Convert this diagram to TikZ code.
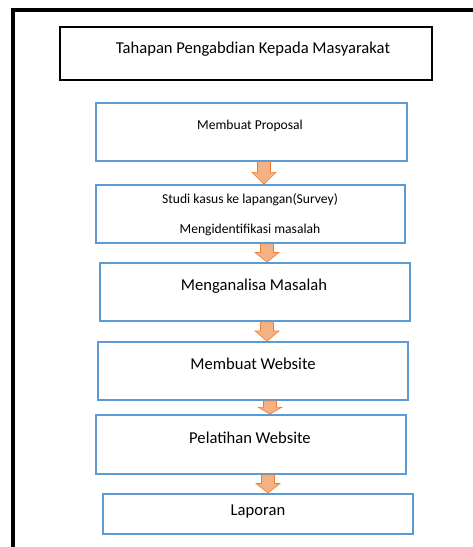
\documentclass[tikz,border=0pt]{standalone}
\usepackage{fontspec}
\setmainfont{Carlito}
\usetikzlibrary{calc}
\definecolor{boxblue}{HTML}{5B9BD5}
\definecolor{arrfill}{HTML}{F4B183}
\definecolor{arredge}{HTML}{ED7D31}
\tikzset{
  stepbox/.style={draw=boxblue, line width=1.8pt, fill=white, inner sep=0pt},
  titlebox/.style={draw=black, line width=1.4pt, inner sep=0pt},
  txt/.style={inner sep=0pt, text=black, anchor=base},
  bigtxt/.style={txt, font=\fontsize{16.6}{20}\selectfont},
  smalltxt/.style={txt, font=\fontsize{13.6}{16}\selectfont},
  blockarrow/.style={fill=arrfill, draw=arredge, line width=0.6pt, line join=miter},
  frameline/.style={draw=black, line width=4.8pt}
}
% #1 = x centre (px), #2 = upper node, #3 = lower node
\newcommand{\blockarr}[3]{%
  \path[blockarrow] let \p1=(#2.south), \p2=(#3.north) in
    ({#1pt-6.5pt},\y1) -- ({#1pt+6.5pt},\y1) --
    ({#1pt+6.5pt},{\y1+0.47*(\y2-\y1)}) -- ({#1pt+12pt},{\y1+0.47*(\y2-\y1)}) --
    ({#1pt},\y2) --
    ({#1pt-12pt},{\y1+0.47*(\y2-\y1)}) -- ({#1pt-6.5pt},{\y1+0.47*(\y2-\y1)}) -- cycle;}
\begin{document}
\begin{tikzpicture}[x=1pt,y=-1pt]
\useasboundingbox (0,0) rectangle (473,547);
\fill[white] (0,0) rectangle (473,547);
% outer frame
\coordinate (fbl) at (13,549);
\coordinate (fc) at (13,10);
\coordinate (ftr) at (475,10);
\draw[frameline] (fbl) -- (fc) -- (ftr);
% title
\node[titlebox, minimum width=372pt, minimum height=53pt] (title) at (246,53.5) {};
\node[bigtxt] (titletxt) at (253,53) {Tahapan Pengabdian Kepada Masyarakat};
% boxes
\node[stepbox, minimum width=311pt, minimum height=58pt] (b1) at (251.5,132) {};
\node[smalltxt] at (250,129) {Membuat Proposal};
\node[stepbox, minimum width=309pt, minimum height=58pt] (b2) at (250.5,214) {};
\node[smalltxt] at (250,203) {Studi kasus ke lapangan(Survey)};
\node[smalltxt] at (250,233) {Mengidentifikasi masalah};
\node[stepbox, minimum width=310pt, minimum height=58pt] (b3) at (255,292) {};
\node[bigtxt] at (254,290.5) {Menganalisa Masalah};
\node[stepbox, minimum width=310pt, minimum height=58pt] (b4) at (253,371) {};
\node[bigtxt] at (253,369.5) {Membuat Website};
\node[stepbox, minimum width=310pt, minimum height=59pt] (b5) at (251,444.5) {};
\node[bigtxt] at (250,443.5) {Pelatihan Website};
\node[stepbox, minimum width=310pt, minimum height=40pt] (b6) at (258,514) {};
\node[bigtxt] at (258,515.5) {Laporan};
% arrows
\blockarr{264}{b1}{b2}
\blockarr{267}{b2}{b3}
\blockarr{267}{b3}{b4}
\blockarr{270}{b4}{b5}
\blockarr{268}{b5}{b6}
\end{tikzpicture}
\end{document}
